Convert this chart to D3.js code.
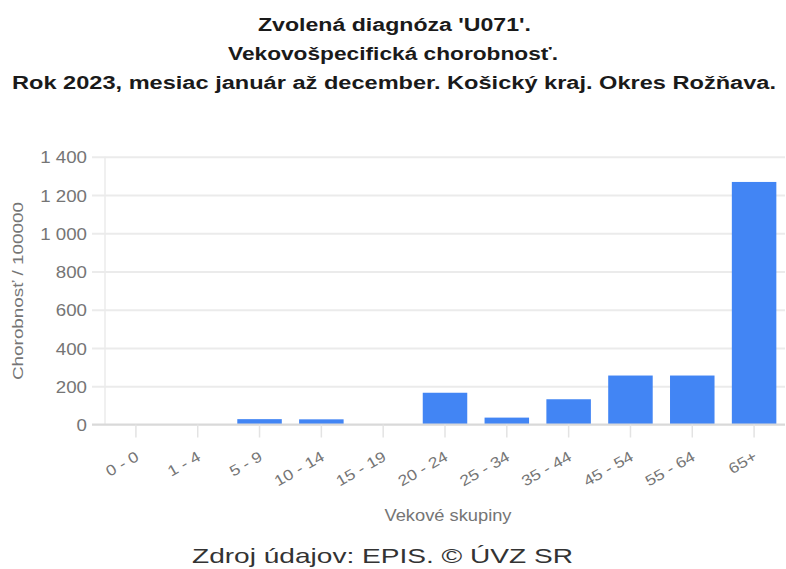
<!DOCTYPE html>
<html><head><meta charset="utf-8">
<script src="https://cdn.jsdelivr.net/npm/d3@7"></script>
<style>body{margin:0;background:#fff}svg{display:block}</style>
</head><body><svg id="c" width="786" height="569"></svg>
<script>
const categories = ["0 - 0","1 - 4","5 - 9","10 - 14","15 - 19","20 - 24","25 - 34","35 - 44","45 - 54","55 - 64","65+"];
const values = [0, 0, 28, 27, 0, 166, 36, 132, 256, 256, 1268];
const yTicks = [0, 200, 400, 600, 800, 1000, 1200, 1400];
const titleLines = ["Zvolená diagnóza 'U071'.", "Vekovošpecifická chorobnosť.", "Rok 2023, mesiac január až december. Košický kraj. Okres Rožňava."];
const yTitle = "Chorobnosť / 100000";
const xTitle = "Vekové skupiny";
const footer = "Zdroj údajov: EPIS. © ÚVZ SR";

const svg = d3.select("#c");
const font = "'Liberation Sans', Arial, sans-serif";
const L = 105, R = 785, T = 156.7, B = 424.5;
const x = d3.scaleBand().domain(categories).range([L, R]).paddingInner(0.28).paddingOuter(0.14);
const y = d3.scaleLinear().domain([0, 1400]).range([B, T]);
const fmt = v => d3.format(",")(v).replace(/,/g, " ");

function stretch(sel, k) {
  sel.each(function() {
    const w = this.getComputedTextLength();
    d3.select(this).attr("textLength", w * k).attr("lengthAdjust", "spacingAndGlyphs");
  });
}
function fitTo(sel, target) {
  sel.attr("textLength", target).attr("lengthAdjust", "spacingAndGlyphs");
}

// title
const titleW = [273, 330, 764];
const titleX = [394.5, 393, 394];
svg.append("g").selectAll("text").data(titleLines).join("text")
  .attr("x", (d, i) => titleX[i]).attr("y", (d, i) => 31 + i * 29)
  .attr("text-anchor", "middle").attr("font-family", font).attr("font-weight", "bold")
  .attr("font-size", 18).attr("fill", "#1a1a1a").text(d => d)
  .each(function(d, i) { fitTo(d3.select(this), titleW[i]); });

// gridlines + y labels
const yAxis = d3.axisLeft(y).tickValues(yTicks).tickSize(-(R - L) - 13).tickPadding(5).tickFormat(fmt);
const gy = svg.append("g").attr("transform", `translate(${L - 13},0)`).call(yAxis);
gy.select(".domain").remove();
gy.selectAll(".tick line").attr("stroke", "#ebebeb").attr("stroke-width", 2);
gy.selectAll(".tick text").attr("font-family", font).attr("font-size", 17).attr("fill", "#757575").attr("dy", "0.36em")
  .call(stretch, 1.1);

// y axis vertical line
svg.append("line").attr("x1", L).attr("x2", L).attr("y1", T).attr("y2", B).attr("stroke", "#ebebeb").attr("stroke-width", 1.5);

// bars
svg.append("g").selectAll("rect").data(values).join("rect")
  .attr("x", (d, i) => x(categories[i])).attr("width", x.bandwidth())
  .attr("y", d => y(d)).attr("height", d => y(0) - y(d)).attr("fill", "#4285f4");

// x axis
const xAxis = d3.axisBottom(x).tickSize(13).tickSizeOuter(0).tickPadding(0);
const gx = svg.append("g").attr("transform", `translate(0,${B})`).call(xAxis);
gx.select(".domain").attr("stroke", "#d9d9d9").attr("stroke-width", 2).attr("d", `M${L - 13},0H${R}`);
gx.selectAll(".tick line").attr("stroke", "#e3e3e3").attr("stroke-width", 1.5);
gx.selectAll(".tick text").attr("font-family", font).attr("font-size", 15).attr("fill", "#757575")
  .attr("text-anchor", "end").attr("dy", 0).attr("y", 0)
  .attr("transform", "translate(4,35) rotate(-30)")
  .call(stretch, 1.17);

// axis titles
svg.append("text").attr("transform", "translate(23,291) rotate(-90)").attr("text-anchor", "middle")
  .attr("font-family", font).attr("font-size", 15).attr("fill", "#757575").text(yTitle)
  .call(fitTo, 178);
svg.append("text").attr("x", 448).attr("y", 521).attr("text-anchor", "middle")
  .attr("font-family", font).attr("font-size", 16).attr("fill", "#757575").text(xTitle)
  .call(fitTo, 127);
svg.append("text").attr("x", 382.5).attr("y", 563).attr("text-anchor", "middle")
  .attr("font-family", font).attr("font-size", 21).attr("fill", "#333").text(footer)
  .call(fitTo, 381);
</script></body></html>
